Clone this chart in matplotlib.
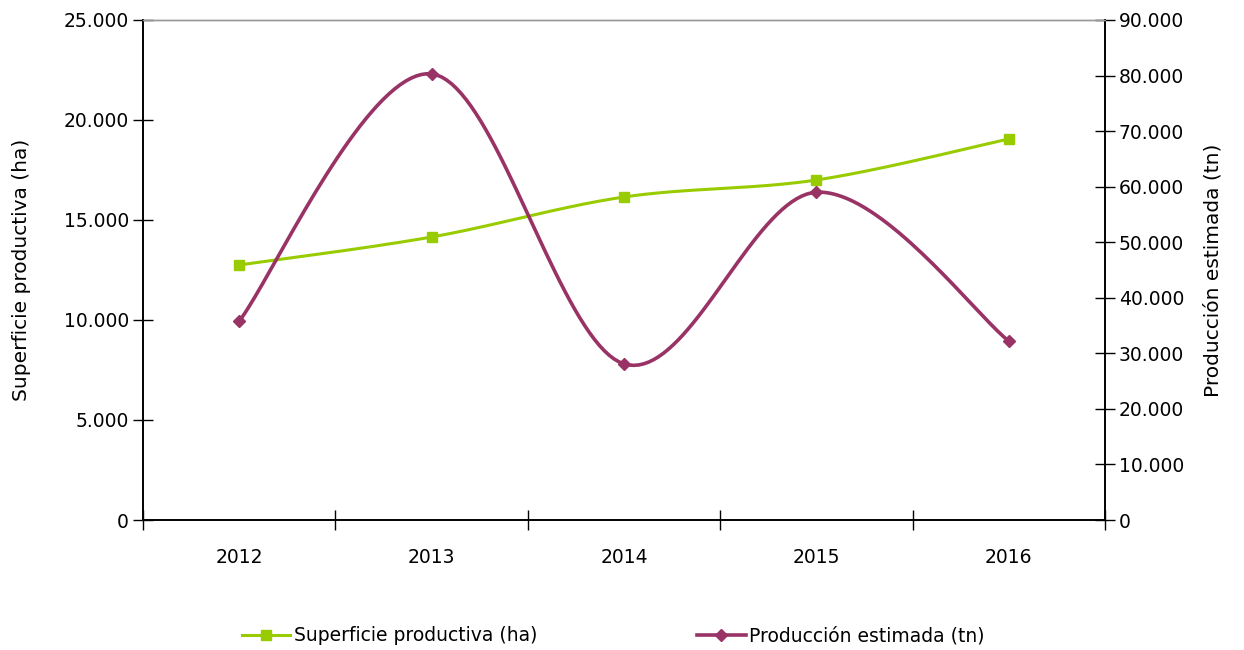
import numpy as np
import matplotlib.pyplot as plt
from matplotlib.ticker import FuncFormatter, FixedLocator

years = ['2012', '2013', '2014', '2015', '2016']
superficie = [12750, 14150, 16150, 17000, 19050]   # ha
produccion = [35800, 80300, 28100, 59000, 32200]   # tn

green = '#99cc00'
purple = '#993366'


def smooth(xs, ys, n=40):
    # excel-like smoothed line: catmull-rom bezier through the points
    xs = np.asarray(xs, float)
    ys = np.asarray(ys, float)
    px = np.concatenate([[xs[0]], xs, [xs[-1]]])
    py = np.concatenate([[ys[0]], ys, [ys[-1]]])
    ox, oy = [], []
    t = np.linspace(0, 1, n)
    for i in range(1, len(px) - 2):
        p0 = np.array([px[i], py[i]])
        p3 = np.array([px[i + 1], py[i + 1]])
        p1 = p0 + (np.array([px[i + 1], py[i + 1]]) - np.array([px[i - 1], py[i - 1]])) / 6
        p2 = p3 - (np.array([px[i + 2], py[i + 2]]) - np.array([px[i], py[i]])) / 6
        b = ((1 - t) ** 3)[:, None] * p0 + (3 * (1 - t) ** 2 * t)[:, None] * p1 \
            + (3 * (1 - t) * t ** 2)[:, None] * p2 + (t ** 3)[:, None] * p3
        ox.extend(b[:, 0])
        oy.extend(b[:, 1])
    return ox, oy


def fmt(v, pos):
    return '{:,.0f}'.format(v).replace(',', '.')


fig = plt.figure(figsize=(12.44, 6.5), dpi=100)
ax = fig.add_axes([143 / 1244, 130 / 650, 962 / 1244, 500 / 650])
ax2 = ax.twinx()

x = np.arange(len(years))

sx, sy = smooth(x, superficie)
ax.plot(sx, sy, color=green, lw=2.2, zorder=3)
ax.plot(x, superficie, 's', color=green, ms=7, zorder=4)

px, py = smooth(x, produccion)
ax2.plot(px, py, color=purple, lw=2.6, zorder=3)
ax2.plot(x, produccion, 'D', color=purple, ms=6, zorder=4)

ax.set_xlim(-0.5, len(years) - 0.5)
ax.set_ylim(0, 25000)
ax2.set_ylim(0, 90000)
ax.set_yticks(np.arange(0, 25001, 5000))
ax2.set_yticks(np.arange(0, 90001, 10000))
ax.yaxis.set_major_formatter(FuncFormatter(fmt))
ax2.yaxis.set_major_formatter(FuncFormatter(fmt))

ax.set_xticks(x)
ax.set_xticklabels(years)
ax.xaxis.set_minor_locator(FixedLocator(np.arange(-0.5, len(years), 1.0)))
ax.tick_params(axis='x', which='major', length=0, pad=20, labelsize=13.5)
ax.tick_params(axis='x', which='minor', length=14, direction='inout', width=1)
ax.tick_params(axis='y', length=14, direction='inout', width=1, labelsize=13.5, pad=3)
ax2.tick_params(axis='y', length=14, direction='inout', width=1, labelsize=13.5, pad=3)

for a in (ax, ax2):
    a.spines['top'].set_color('#999999')
    a.spines['top'].set_linewidth(1)
    for s in ('left', 'right', 'bottom'):
        a.spines[s].set_linewidth(1.2)

ax.set_ylabel('Superficie productiva (ha)', fontsize=14.5, labelpad=24)
ax2.set_ylabel('Producción estimada (tn)', fontsize=14.5, labelpad=14)

h1, = ax.plot([], [], '-s', color=green, lw=2.2, ms=7)
h2, = ax.plot([], [], '-D', color=purple, lw=2.6, ms=6)
fig.legend([h1, h2], ['Superficie productiva (ha)', 'Producción estimada (tn)'],
           loc='center', bbox_to_anchor=(0.493, 0.022), ncol=2, frameon=False,
           fontsize=13.5, columnspacing=8.5, handlelength=2.6, handletextpad=0.2)

fig.savefig('out.png', dpi=100)
